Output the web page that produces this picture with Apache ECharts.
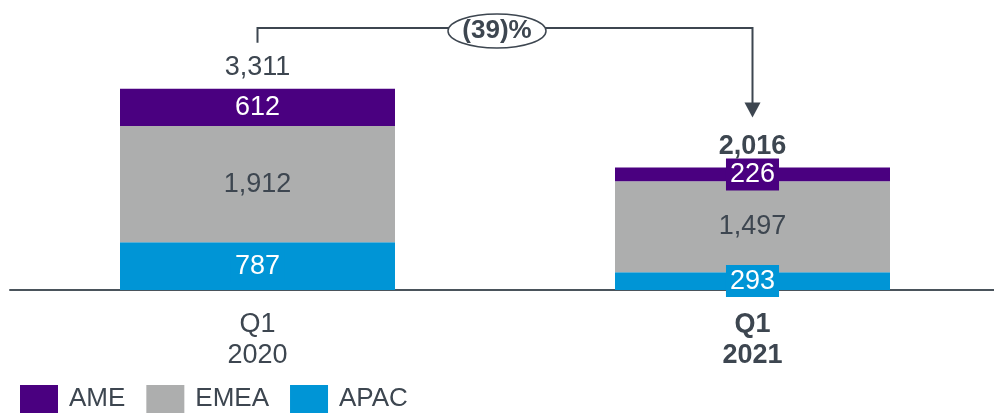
<!DOCTYPE html>
<html>
<head>
<meta charset="utf-8">
<script src="https://cdn.jsdelivr.net/npm/echarts@6/dist/echarts.min.js"></script>
<style>
  html, body { margin: 0; padding: 0; background: #fff; }
  #chart { width: 994px; height: 415px; }
</style>
</head>
<body>
<div id="chart"></div>
<script>
// data
var quarters = ['Q1\n2020', 'Q1\n2021'];
var ame = [612, 226];
var emea = [1912, 1497];
var apac = [787, 293];
var totals = [3311, 2016];
var regionNames = ['AME', 'EMEA', 'APAC'];

var textColor = '#3d4650';
var colors = { AME: '#4a0080', EMEA: '#adaeae', APAC: '#0095d6' };
var font = 'Liberation Sans, Arial, sans-serif';
var fs = 27;

function fmt(v) {
  return Number(v).toLocaleString('en-US');
}

var chart = echarts.init(document.getElementById('chart'));

function barSeries(name, data, labelColor, boxed) {
  return {
    name: name,
    type: 'bar',
    stack: 'total',
    barWidth: 275,
    data: data,
    itemStyle: { color: colors[name] },
    label: {
      show: true,
      position: 'inside',
      fontFamily: font,
      fontSize: fs,
      color: labelColor,
      backgroundColor: boxed ? colors[name] : 'transparent',
      padding: [3, 4, 2, 4],
      formatter: function (p) { return fmt(p.value); }
    },
    emphasis: { disabled: true }
  };
}

var option = {
  animation: false,
  textStyle: { fontFamily: font },
  grid: { left: 10, width: 990, top: 47, bottom: 125, outerBoundsMode: 'none' },
  legend: {
    data: regionNames,
    left: 20,
    top: 385,
    padding: 0,
    icon: 'rect',
    itemWidth: 38,
    itemHeight: 28,
    itemGap: 21,
    textStyle: { fontFamily: font, fontSize: 26, color: textColor, padding: [0, 0, 0, 6] }
  },
  xAxis: {
    type: 'category',
    data: [
      { value: quarters[0] },
      { value: quarters[1], textStyle: { fontWeight: 'bold' } }
    ],
    axisLine: { lineStyle: { color: '#4a535b', width: 2 } },
    axisTick: { show: false },
    axisLabel: { fontFamily: font, fontSize: fs, lineHeight: 31, color: textColor, margin: 19 }
  },
  yAxis: {
    type: 'value',
    min: 0,
    max: 4000,
    show: false
  },
  series: [
    barSeries('APAC', apac, '#ffffff', true),
    barSeries('EMEA', emea, textColor, false),
    barSeries('AME', ame, '#ffffff', true),
    {
      name: 'Total',
      type: 'scatter',
      symbolSize: 0,
      silent: true,
      itemStyle: { color: textColor, opacity: 1 },
      data: totals.map(function (t, i) {
        return {
          value: t,
          label: {
            color: textColor,
            fontWeight: i === 1 ? 'bold' : 'normal',
            distance: i === 1 ? 7 : 8
          }
        };
      }),
      label: {
        show: true,
        position: 'top',
        fontFamily: font,
        fontSize: fs,
        color: textColor,
        formatter: function (p) { return fmt(p.value); }
      }
    }
  ]
};

chart.setOption(option);

// change bracket between the two totals
var p1 = chart.convertToPixel({ gridIndex: 0 }, [0, totals[0]]);
var p2 = chart.convertToPixel({ gridIndex: 0 }, [1, totals[1]]);
var bracketY = 28;
var startY = p1[1] - 46;
var tipY = p2[1] - 50;
var midX = (p1[0] + p2[0]) / 2 - 8;
var change = Math.round((totals[1] / totals[0] - 1) * 100);
var changeText = change < 0 ? '(' + Math.abs(change) + ')%' : change + '%';

chart.setOption({
  graphic: [
    {
      type: 'polyline',
      shape: { points: [[p1[0], startY], [p1[0], bracketY], [p2[0], bracketY], [p2[0], tipY - 14]] },
      style: { stroke: textColor, lineWidth: 2, fill: null },
      silent: true
    },
    {
      type: 'polygon',
      shape: { points: [[p2[0] - 8, tipY - 15], [p2[0] + 8, tipY - 15], [p2[0], tipY]] },
      style: { fill: textColor },
      silent: true
    },
    {
      type: 'ellipse',
      shape: { cx: midX, cy: bracketY + 3, rx: 49, ry: 17 },
      style: { fill: '#ffffff', stroke: textColor, lineWidth: 1.5 },
      silent: true
    },
    {
      type: 'text',
      x: midX,
      y: bracketY + 3,
      style: {
        text: changeText,
        font: 'bold 26px ' + font,
        fill: textColor,
        align: 'center',
        verticalAlign: 'middle'
      },
      silent: true
    }
  ]
});
</script>
</body>
</html>
